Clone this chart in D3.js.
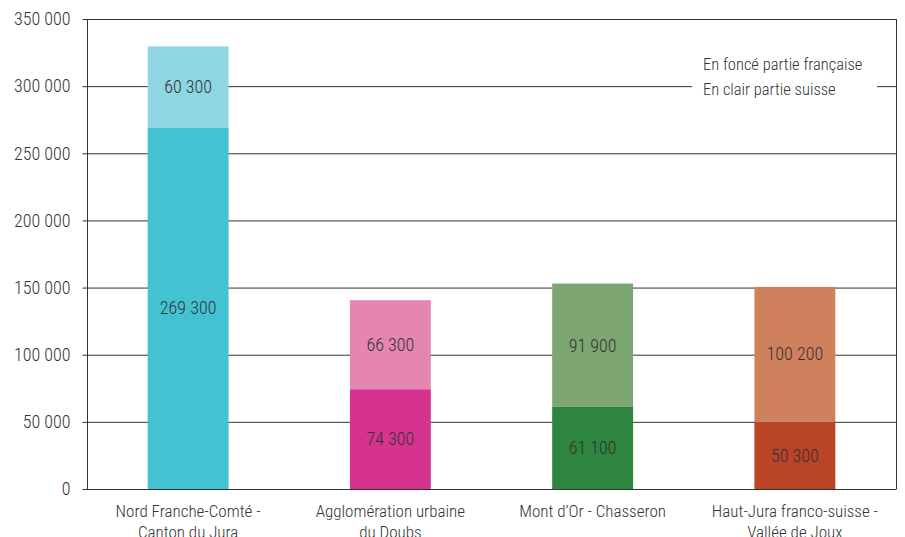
<!DOCTYPE html>
<html><head><meta charset="utf-8">
<script src="https://cdn.jsdelivr.net/npm/d3@7"></script>
<style>
body{margin:0;background:#fff;}
text{font-family:"Roboto Condensed","Liberation Sans Narrow","DejaVu Sans Condensed",sans-serif;font-weight:300;fill:#333;}
</style></head><body>
<svg id="c" width="905" height="537"></svg>
<script>
const categories = [["Nord Franche-Comté -","Canton du Jura"],["Agglomération urbaine","du Doubs"],["Mont d’Or - Chasseron"],["Haut-Jura franco-suisse -","Vallée de Joux"]];
const partFrancaise = [269300, 74300, 61100, 50300];
const partSuisse = [60300, 66300, 91900, 100200];
const darkColors = ["#43c3d2","#d6338f","#2e853f","#ba4427"];
const lightColors = ["#8dd6e2","#e585b2","#7da672","#cf805c"];
const yTicks = [0,50000,100000,150000,200000,250000,300000,350000];
const legendLines = ["En foncé partie française","En clair partie suisse"];

const FONT = '"Roboto Condensed","Liberation Sans Narrow","DejaVu Sans Condensed",sans-serif';
const svg = d3.select("#c");
const L=87, R=896, T=19, B=489;
const x = d3.scaleBand().domain(d3.range(categories.length)).range([L,R]).paddingInner(0.6).paddingOuter(0.3);
const y = d3.scaleLinear().domain([0,350000]).range([B,T]);
const fmt = v => d3.format(",")(v).replace(/,/g," ");

// gridlines
svg.append("g").selectAll("line").data(yTicks).join("line")
  .attr("x1",L).attr("x2",R).attr("y1",d=>y(d)+0.5).attr("y2",d=>y(d)+0.5)
  .attr("stroke","#333").attr("stroke-width",1);
// right border
svg.append("line").attr("x1",R+0.5).attr("x2",R+0.5).attr("y1",T).attr("y2",B+0.5).attr("stroke","#333");

// legend background & text
const lg = svg.append("g");
lg.append("rect").attr("x",692).attr("y",50).attr("width",185).attr("height",52).attr("fill","#fff");
lg.selectAll("text").data(legendLines).join("text")
  .attr("x",703).attr("y",(d,i)=>70+i*25).attr("font-size",16.5).text(d=>d);

// bars
const idx = d3.range(categories.length);
svg.append("g").selectAll("rect").data(idx).join("rect")
  .attr("x",i=>x(i)).attr("width",x.bandwidth())
  .attr("y",i=>y(partFrancaise[i])).attr("height",i=>B-y(partFrancaise[i]))
  .attr("fill",i=>darkColors[i]);
svg.append("g").selectAll("rect").data(idx).join("rect")
  .attr("x",i=>x(i)).attr("width",x.bandwidth())
  .attr("y",i=>y(partFrancaise[i]+partSuisse[i])).attr("height",i=>y(partFrancaise[i])-y(partFrancaise[i]+partSuisse[i]))
  .attr("fill",i=>lightColors[i]);

// value labels
svg.append("g").selectAll("text").data(idx).join("text")
  .attr("x",i=>x(i)+x.bandwidth()/2).attr("y",i=>(y(0)+y(partFrancaise[i]))/2)
  .attr("text-anchor","middle").attr("dy","0.35em").attr("font-size",18).text(i=>fmt(partFrancaise[i]));
svg.append("g").selectAll("text").data(idx).join("text")
  .attr("x",i=>x(i)+x.bandwidth()/2).attr("y",i=>(y(partFrancaise[i])+y(partFrancaise[i]+partSuisse[i]))/2)
  .attr("text-anchor","middle").attr("dy","0.35em").attr("font-size",18).text(i=>fmt(partSuisse[i]));

// y axis
const ya = svg.append("g").attr("transform",`translate(${L+0.5},0)`)
  .call(d3.axisLeft(y).tickValues(yTicks).tickSize(5).tickPadding(12).tickFormat(fmt));
ya.select(".domain").attr("stroke","#333").attr("d",`M0,${T}V${B+0.5}`);
ya.selectAll(".tick line").attr("stroke","#333");
ya.selectAll(".tick text").attr("font-size",18).attr("fill","#333").style("font-family",FONT).style("font-weight",300);

// category labels
const cg = svg.append("g").selectAll("text").data(idx).join("text")
  .attr("x",i=>x(i)+x.bandwidth()/2).attr("y",517).attr("text-anchor","middle").attr("font-size",17);
cg.selectAll("tspan").data(i=>categories[i].map(t=>({t,i}))).join("tspan")
  .attr("x",d=>x(d.i)+x.bandwidth()/2).attr("dy",(d,j)=>j?21:0).text(d=>d.t);
</script></body></html>
